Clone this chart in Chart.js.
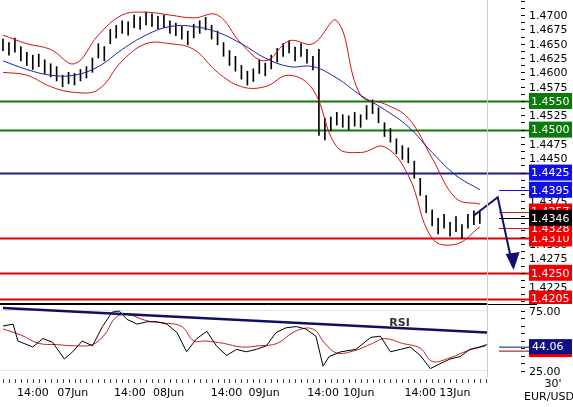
<!DOCTYPE html>
<html>
<head>
<meta charset="utf-8">
<script src="https://cdn.jsdelivr.net/npm/chart.js@4/dist/chart.umd.min.js"></script>
<style>
  body { margin: 0; background: #fff; }
  #wrap { position: relative; width: 573px; height: 407px; }
  #price { position: absolute; left: 0; top: 0; }
  #rsi { position: absolute; left: 0; top: 304px; }
</style>
</head>
<body>
<div id="wrap">
  <canvas id="price" width="573" height="304"></canvas>
  <canvas id="rsi" width="573" height="103"></canvas>
</div>
<script>
// 30' EUR/USD bars, index = bar number
const highs = [1.4658,1.4652,1.4660,1.4645,1.4635,1.4630,1.4632,1.4622,1.4615,1.4610,1.4595,1.4600,1.4598,1.4605,1.4610,1.4625,1.4650,1.4645,1.4675,1.4682,
  1.4690,1.4688,1.4700,1.4697,1.4705,1.4702,1.4698,1.4700,1.4690,1.4686,1.4680,1.4672,1.4684,1.4690,1.4696,1.4682,1.4672,1.4652,1.4638,1.4628,
  1.4612,1.4602,1.4606,1.4622,1.4616,1.4630,1.4642,1.4650,1.4655,1.4644,1.4650,1.4640,1.4628,1.4640,1.4520,1.4522,1.4530,1.4526,1.4524,1.4530,
  1.4526,1.4542,1.4552,1.4538,1.4512,1.4502,1.4484,1.4472,1.4468,1.4445,1.4415,1.4385,1.4360,1.4345,1.4352,1.4338,1.4348,1.4334,1.4352,1.4358,1.4356]
const lows = [1.4638,1.4630,1.4635,1.4620,1.4612,1.4605,1.4610,1.4598,1.4592,1.4585,1.4575,1.4580,1.4578,1.4585,1.4590,1.4600,1.4625,1.4620,1.4650,1.4660,
  1.4668,1.4665,1.4678,1.4675,1.4683,1.4680,1.4676,1.4678,1.4668,1.4664,1.4658,1.4648,1.4660,1.4668,1.4674,1.4658,1.4648,1.4628,1.4612,1.4602,
  1.4588,1.4578,1.4584,1.4598,1.4594,1.4606,1.4618,1.4628,1.4634,1.4620,1.4628,1.4616,1.4604,1.4490,1.4482,1.4498,1.4508,1.4504,1.4500,1.4506,
  1.4504,1.4518,1.4528,1.4512,1.4488,1.4478,1.4458,1.4448,1.4442,1.4415,1.4385,1.4355,1.4332,1.4318,1.4328,1.4314,1.4322,1.4310,1.4328,1.4334,1.4336]

// bands and moving average, one value every 4 bars
const bandStep = 4
const upperBand = [1.4665,1.4650,1.4640,1.4615,1.4665,1.4700,1.4705,1.4700,1.4695,1.4700,1.4650,1.4620,1.4655,1.4650,1.4690,1.4560,1.4545,1.4520,1.4450,1.4380,1.4370]
const lowerBand = [1.4600,1.4595,1.4575,1.4565,1.4570,1.4620,1.4650,1.4650,1.4640,1.4600,1.4575,1.4575,1.4595,1.4570,1.4470,1.4460,1.4470,1.4420,1.4310,1.4300,1.4330]
const movingAvg = [1.4620,1.4605,1.4595,1.4595,1.4610,1.4640,1.4665,1.4680,1.4680,1.4670,1.4650,1.4625,1.4610,1.4610,1.4590,1.4560,1.4535,1.4505,1.4460,1.4420,1.4395]

// price axis labels
const priceTicks = [1.4700,1.4675,1.4650,1.4625,1.4600,1.4575,1.4525,1.4475,1.4450,1.4375,1.4300,1.4275,1.4225]

// horizontal levels and price tags
const levels = [
  { v: 1.4550, c: '#0a7a0a', bg: '#0a7a0a', tag: true },
  { v: 1.4500, c: '#0a7a0a', bg: '#0a7a0a', tag: true },
  { v: 1.4425, c: '#1a1a8c', bg: '#1010e0', tag: true },
  { v: 1.4310, c: '#e00000', bg: '#f00000', tag: true },
  { v: 1.4250, c: '#e00000', bg: '#f00000', tag: true },
  { v: 1.4205, c: '#e00000', bg: '#f00000', tag: true },
  { v: 1.4198, c: '#000000', tag: false }
]
const sideTags = [
  { v: 1.4395, bg: '#1010e0', line: '#1010e0', text: '1.4395' },
  { v: 1.4357, bg: '#f00000', line: '#c02020', text: '1.4357' },
  { v: 1.4328, bg: '#f00000', line: '#c02020', text: '1.4328' },
  { v: 1.4346, bg: '#000000', line: '#000000', text: '1.4346' }
]
// forecast arrow: [bar index, price]
const arrowPts = [[79, 1.4350], [83, 1.4382], [85.5, 1.4262]]

// RSI
const rsiX = [0,1.7,2.5,5,6.7,8.3,10.3,11.7,13.3,15,16.7,18.3,19.5,20.8,22.5,24.2,25.8,27.5,29.2,30.8,32.5,34.2,35.8,37.5,39.2,40.8,42.5,44.2,45.8,47.5,49.2,50.8,52.5,53.7,54.7,56.7,59.2,61.7,63.3,65,66.7,68.3,70,71.7,73.3,75,76.7,78.3,80,81.2]
const rsiVals = [62.5,64,50,45,52,49,35,41,50,46,62,74,75,68,64,66,66,64,57,41,52,58,46,38,43,41,43,46,57,61,62,60,54,29,37,41,43,53,54,41,43,45,38,27,31,35,37,43,45,47]
const rsiAvgX = [0,3,6,9,12,15,17,19,21,24,27,30,32,34,37,40,43,46,49,52,54,56,59,62,64,67,70,72,75,78,81]
const rsiAvg = [60,55,48,47,46,47,55,70,72,67,65,62,50,50,48,45,46,48,58,60,48,40,42,48,52,48,44,33,36,42,46]
const rsiTicks = [75, 25]
const rsiTrend = [[0, 77.5], [81.2, 57]]
const rsiNow = 44.06

const timeLabels = [[5,'14:00'],[11.7,'07Jun'],[21.3,'14:00'],[27.8,'08Jun'],[37.5,'14:00'],[43.8,'09Jun'],[53.7,'14:00'],[59.7,'10Jun'],[70,'14:00'],[75.8,'13Jun']]

const FONT = '"DejaVu Sans", Verdana, sans-serif'
const xMin = -0.5, xMax = 81.2
const axisW = 86
const tagX = 42

const fixWidth = (scale) => { scale.width = axisW }

const pricePlugin = {
  id: 'pricePlugin',
  beforeDatasetsDraw(chart) {
    const { ctx, chartArea: a, scales: { y } } = chart
    ctx.save()
    levels.forEach(l => {
      const py = Math.round(y.getPixelForValue(l.v)) + 0.5
      ctx.strokeStyle = l.c
      ctx.lineWidth = l.tag ? 2 : 1
      ctx.beginPath(); ctx.moveTo(a.left, py); ctx.lineTo(a.right + (l.tag ? tagX : 0), py); ctx.stroke()
    })
    ctx.restore()
  },
  afterDraw(chart) {
    const { ctx, chartArea: a, scales: { x, y } } = chart
    ctx.save()
    // small dashes and labels of the axis
    ctx.strokeStyle = '#000'; ctx.lineWidth = 1
    for (let v = 1.4200; v <= 1.4726; v += 0.00125) {
      const py = Math.round(y.getPixelForValue(v)) + 0.5
      ctx.beginPath(); ctx.moveTo(a.right + 34, py); ctx.lineTo(a.right + 38, py); ctx.stroke()
    }
    ctx.font = '11px ' + FONT
    ctx.textBaseline = 'middle'
    ctx.fillStyle = '#000'
    priceTicks.forEach(v => ctx.fillText(v.toFixed(4), a.right + tagX, y.getPixelForValue(v) + 1))
    const box = (v, bg, text) => {
      const py = y.getPixelForValue(v)
      ctx.fillStyle = bg
      ctx.fillRect(a.right + tagX, py - 8, 43, 16)
      ctx.fillStyle = '#fff'
      ctx.fillText(text, a.right + tagX + 2, py + 1)
    }
    levels.filter(l => l.tag).forEach(l => box(l.v, l.bg, l.v.toFixed(4)))
    sideTags.forEach(t => {
      const py = Math.round(y.getPixelForValue(t.v)) + 0.5
      ctx.strokeStyle = t.line
      ctx.lineWidth = 1
      ctx.beginPath(); ctx.moveTo(a.right + 12, py); ctx.lineTo(a.right + tagX, py); ctx.stroke()
      box(t.v, t.bg, t.text)
    })
    // arrow
    const pts = arrowPts.map(p => [x.getPixelForValue(p[0]), y.getPixelForValue(p[1])])
    ctx.strokeStyle = '#101070'
    ctx.fillStyle = '#101070'
    ctx.lineWidth = 2
    ctx.beginPath(); ctx.moveTo(pts[0][0], pts[0][1])
    pts.slice(1).forEach(p => ctx.lineTo(p[0], p[1]))
    ctx.stroke()
    const e = pts[2]
    ctx.beginPath(); ctx.moveTo(e[0] - 7, e[1] - 12); ctx.lineTo(e[0] + 7, e[1] - 14); ctx.lineTo(e[0] + 1, e[1] + 4); ctx.fill()
    ctx.strokeStyle = '#ccc'; ctx.lineWidth = 1
    ctx.beginPath(); ctx.moveTo(a.right + 0.5, 0); ctx.lineTo(a.right + 0.5, a.bottom); ctx.stroke()
    ctx.restore()
  }
}

const toPts = (arr, step) => arr.map((v, i) => ({ x: i * step, y: v }))

new Chart(document.getElementById('price'), {
  data: {
    datasets: [
      { type: 'bar', data: highs.map((h, i) => ({ x: i, y: [lows[i], h] })), backgroundColor: '#000', barThickness: 1, order: 3 },
      { type: 'line', data: toPts(upperBand, bandStep), borderColor: '#d01010', borderWidth: 1, pointRadius: 0, tension: 0.4, order: 2 },
      { type: 'line', data: toPts(lowerBand, bandStep), borderColor: '#d01010', borderWidth: 1, pointRadius: 0, tension: 0.4, order: 2 },
      { type: 'line', data: toPts(movingAvg, bandStep), borderColor: '#2020a0', borderWidth: 1, pointRadius: 0, tension: 0.4, order: 1 }
    ]
  },
  options: {
    responsive: false, animation: false,
    layout: { padding: 0 },
    plugins: { legend: { display: false }, tooltip: { enabled: false } },
    scales: {
      x: { type: 'linear', min: xMin, max: xMax, display: false, offset: false },
      y: {
        position: 'right', min: 1.41955, max: 1.47263, afterFit: fixWidth,
        grid: { display: false }, border: { display: false },
        ticks: { display: false }
      }
    }
  },
  plugins: [pricePlugin]
})

const rsiPlugin = {
  id: 'rsiPlugin',
  afterDraw(chart) {
    const { ctx, chartArea: a, scales: { x, y } } = chart
    ctx.save()
    // trend line
    ctx.strokeStyle = '#101060'; ctx.lineWidth = 2.5
    ctx.beginPath()
    ctx.moveTo(x.getPixelForValue(rsiTrend[0][0]), y.getPixelForValue(rsiTrend[0][1]))
    ctx.lineTo(x.getPixelForValue(rsiTrend[1][0]), y.getPixelForValue(rsiTrend[1][1]))
    ctx.stroke()
    ctx.fillStyle = '#333'; ctx.font = 'bold 11px ' + FONT
    ctx.fillText('RSI', x.getPixelForValue(64.8), y.getPixelForValue(62.5))
    // borders
    ctx.strokeStyle = '#000'; ctx.lineWidth = 1
    ctx.beginPath(); ctx.moveTo(0, 0.5); ctx.lineTo(a.right + 50, 0.5); ctx.stroke()
    ctx.strokeStyle = '#ccc'
    ctx.beginPath(); ctx.moveTo(a.right + 0.5, 0); ctx.lineTo(a.right + 0.5, a.bottom); ctx.stroke()
    // value dashes and labels
    ctx.strokeStyle = '#000'
    for (let v = 25; v <= 75; v += 6.25) {
      const py = Math.round(y.getPixelForValue(v)) + 0.5
      ctx.beginPath(); ctx.moveTo(a.right + 34, py); ctx.lineTo(a.right + 38, py); ctx.stroke()
    }
    ctx.fillStyle = '#000'; ctx.font = '11px ' + FONT; ctx.textBaseline = 'middle'
    rsiTicks.forEach(v => ctx.fillText(v.toFixed(2), a.right + tagX, y.getPixelForValue(v) + 1))
    // bar ticks
    ctx.strokeStyle = '#444'
    for (let i = 0; i <= 81; i++) {
      const px = Math.round(x.getPixelForValue(i)) + 0.5
      ctx.beginPath(); ctx.moveTo(px, a.bottom + 2); ctx.lineTo(px, a.bottom + 6); ctx.stroke()
    }
    ctx.textAlign = 'center'; ctx.textBaseline = 'top'
    timeLabels.forEach(t => ctx.fillText(t[1], x.getPixelForValue(t[0]), a.bottom + 11))
    ctx.fillText("30'", a.right + 66, a.bottom + 2)
    ctx.fillText('EUR/USD', a.right + 62, a.bottom + 15)
    // current value tags
    const py = y.getPixelForValue(rsiNow)
    ctx.fillStyle = '#f00000'; ctx.fillRect(a.right + tagX, py - 3, 43, 12)
    ctx.strokeStyle = '#a00000'
    ctx.beginPath(); ctx.moveTo(a.right + 12, py + 3); ctx.lineTo(a.right + tagX, py + 3); ctx.stroke()
    ctx.strokeStyle = '#101070'
    ctx.beginPath(); ctx.moveTo(a.right + 12, py - 1); ctx.lineTo(a.right + tagX, py - 1); ctx.stroke()
    ctx.fillStyle = '#101080'; ctx.fillRect(a.right + tagX, py - 9, 43, 15)
    ctx.fillStyle = '#fff'; ctx.textAlign = 'left'; ctx.textBaseline = 'middle'
    ctx.fillText(rsiNow.toFixed(2), a.right + tagX + 3, py - 1)
    ctx.restore()
  }
}

new Chart(document.getElementById('rsi'), {
  type: 'line',
  data: {
    datasets: [
      { data: rsiX.map((v, i) => ({ x: v, y: rsiVals[i] })), borderColor: '#000', borderWidth: 1, pointRadius: 0 },
      { data: rsiAvgX.map((v, i) => ({ x: v, y: rsiAvg[i] })), borderColor: '#c02020', borderWidth: 1, pointRadius: 0, tension: 0.4 }
    ]
  },
  options: {
    responsive: false, animation: false,
    layout: { padding: { top: 0, bottom: 30 } },
    plugins: { legend: { display: false }, tooltip: { enabled: false } },
    scales: {
      x: { type: 'linear', min: xMin, max: xMax, display: false },
      y: {
        position: 'right', min: 20, max: 80.8, afterFit: fixWidth,
        grid: { color: ctx => (ctx.tick.value === 75 || ctx.tick.value === 25) ? '#e4e4e4' : 'transparent', drawTicks: false },
        border: { display: false },
        afterBuildTicks: s => { s.ticks = [25, 50, 75].map(v => ({ value: v })) },
        ticks: { display: false }
      }
    }
  },
  plugins: [rsiPlugin]
})
</script>
</body>
</html>
